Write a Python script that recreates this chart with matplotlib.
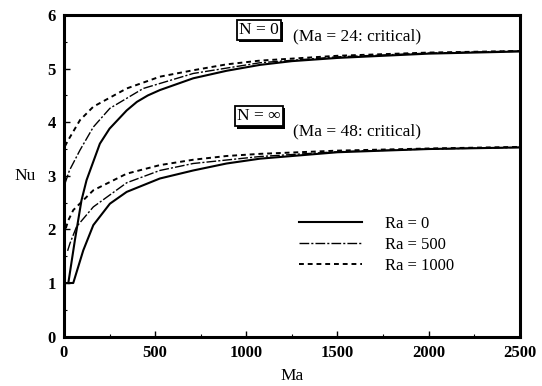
import matplotlib.pyplot as plt
import matplotlib.patheffects as pe

plt.rcParams['font.family'] = ['Liberation Serif', 'DejaVu Serif']

# N = 0 curves
ma_n0_ra0 = [24, 60, 96, 124, 197, 250, 344, 400, 460, 526, 709, 892, 1075, 1250, 1500, 2000, 2500]
nu_n0_ra0 = [1.0, 1.8, 2.54, 2.92, 3.6, 3.88, 4.22, 4.38, 4.5, 4.6, 4.82, 4.96, 5.07, 5.14, 5.2, 5.28, 5.32]
ma_n0_ra500 = [5, 30, 88, 161, 252, 435, 709, 1075, 1500, 2000, 2500]
nu_n0_ra500 = [2.85, 3.1, 3.48, 3.91, 4.26, 4.63, 4.91, 5.11, 5.22, 5.29, 5.33]
ma_n0_ra1000 = [5, 24, 88, 161, 344, 526, 709, 892, 1075, 1500, 2000, 2500]
nu_n0_ra1000 = [3.55, 3.67, 4.04, 4.29, 4.63, 4.85, 4.97, 5.08, 5.15, 5.24, 5.3, 5.33]

# N = infinity curves
ma_ni_ra0 = [0, 51, 106, 161, 252, 344, 526, 709, 892, 1075, 1500, 2000, 2500]
nu_ni_ra0 = [1.0, 1.0, 1.61, 2.08, 2.48, 2.7, 2.95, 3.1, 3.23, 3.32, 3.44, 3.5, 3.53]
ma_ni_ra500 = [20, 33, 69, 161, 344, 526, 709, 1075, 1500, 2000, 2500]
nu_ni_ra500 = [1.6, 1.74, 2.05, 2.42, 2.87, 3.1, 3.23, 3.36, 3.45, 3.5, 3.53]
ma_ni_ra1000 = [10, 24, 51, 161, 344, 526, 709, 892, 1075, 1500, 2000, 2500]
nu_ni_ra1000 = [2.02, 2.17, 2.36, 2.73, 3.04, 3.2, 3.3, 3.37, 3.41, 3.47, 3.51, 3.54]

labels = ['Ra = 0', 'Ra = 500', 'Ra = 1000']

fig = plt.figure(figsize=(5.42, 3.86), dpi=100)
ax = fig.add_axes([0.118, 0.128, 0.841, 0.833])

solid = dict(color='black', lw=1.5, ls='-')
dashdot = dict(color='black', lw=1.0, ls=(0, (7, 1.5, 1.5, 1.5)))
dashed = dict(color='black', lw=1.4, ls=(0, (2.5, 2)))

ax.plot(ma_n0_ra0, nu_n0_ra0, label=labels[0], **solid)
ax.plot(ma_n0_ra500, nu_n0_ra500, label=labels[1], **dashdot)
ax.plot(ma_n0_ra1000, nu_n0_ra1000, label=labels[2], **dashed)
ax.plot(ma_ni_ra0, nu_ni_ra0, **solid)
ax.plot(ma_ni_ra500, nu_ni_ra500, **dashdot)
ax.plot(ma_ni_ra1000, nu_ni_ra1000, **dashed)

ax.set_xlim(0, 2500)
ax.set_ylim(0, 6)
ax.set_xticks([0, 500, 1000, 1500, 2000, 2500])
ax.set_yticks([0, 1, 2, 3, 4, 5, 6])
ax.set_xticks(range(250, 2500, 500), minor=True)
ax.set_yticks([0.5, 1.5, 2.5, 3.5, 4.5, 5.5], minor=True)
ax.tick_params(which='major', direction='in', length=4, width=1, labelsize=12, pad=6)
ax.tick_params(which='minor', direction='in', length=2, width=0.8)
for lab in ax.get_xticklabels() + ax.get_yticklabels():
    lab.set_fontweight('bold')
for s in ax.spines.values():
    s.set_linewidth(2.2)

ax.set_xlabel('Ma', fontsize=12.5, labelpad=5)
ax.set_ylabel('Nu', fontsize=12.5, rotation=0, labelpad=16, va='center')

box = dict(boxstyle='square,pad=0.12', fc='white', ec='black', lw=1.3)
for x, y, t in [(1069, 5.72, 'N = 0'), (1069, 4.11, 'N = ∞')]:
    txt = ax.text(x, y, t, fontsize=12.5, ha='center', va='center', bbox=box)
    txt.get_bbox_patch().set_path_effects([
        pe.SimplePatchShadow(offset=(1.5, -1.5), shadow_rgbFace='black', alpha=1),
        pe.Normal()])
ax.text(1255, 5.6, '(Ma = 24: critical)', fontsize=12.5, va='center')
ax.text(1255, 3.83, '(Ma = 48: critical)', fontsize=12.5, va='center')

ax.legend(loc='upper left', bbox_to_anchor=(0.515, 0.375), frameon=False,
          fontsize=12, handlelength=3.8, handletextpad=1.4, labelspacing=0.3,
          borderpad=0, borderaxespad=0)

fig.savefig('out.png', dpi=100)
